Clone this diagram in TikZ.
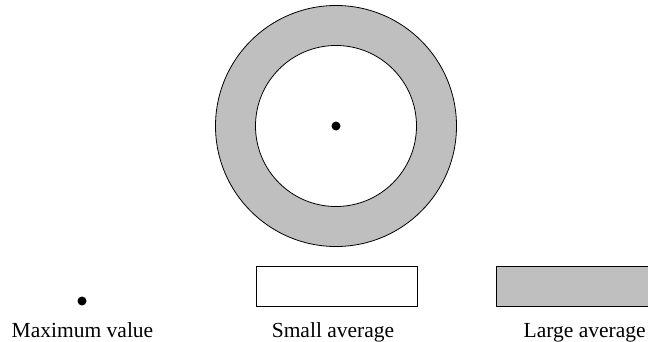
\documentclass[tikz,border=0pt]{standalone}
\usepackage{fontspec}
\setmainfont{Liberation Serif}
\definecolor{ringgray}{RGB}{191,191,191}
\begin{document}
\begin{tikzpicture}[x=1pt,y=1pt,line width=0.8pt,
    every node/.style={font=\fontsize{21.5}{26}\selectfont,inner sep=0pt,anchor=base}]
\useasboundingbox (0,0) rectangle (648,341);
\clip (0,0) rectangle (648,341);
\coordinate (centre) at (336,215);
\filldraw[fill=ringgray] (centre) circle (120.5);
\filldraw[fill=white] (centre) circle (80.5);
\fill (centre) circle (4.5);
\fill (82,40) circle (4.5);
\draw (256,34.5) rectangle (417,74.5);
\filldraw[fill=ringgray] (496,34.5) rectangle (660,74.5);
\node (maxlabel) at (82.5,4) {Maximum value};
\node (smalllabel) at (333,4) {Small average};
\node (largelabel) at (584.7,4) {Large average};
\end{tikzpicture}
\end{document}
